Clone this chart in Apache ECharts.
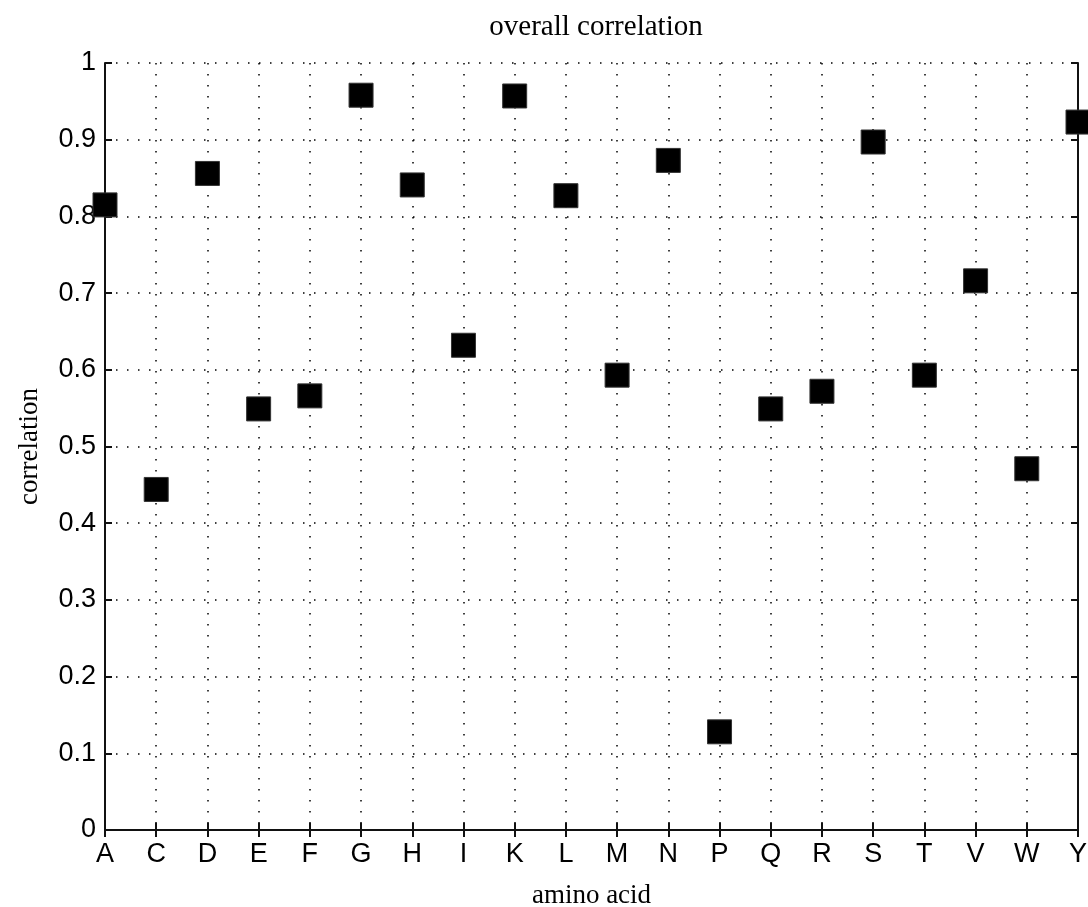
<!DOCTYPE html>
<html>
<head>
<meta charset="utf-8">
<title>overall correlation</title>
<script src="https://cdn.jsdelivr.net/npm/echarts@6/dist/echarts.min.js"></script>
<style>
  html, body { margin: 0; padding: 0; background: #fff; }
  #main { width: 1088px; height: 907px; }
</style>
</head>
<body>
<div id="main"></div>
<script>
// amino acids on the x axis
const aminoAcids = ['A', 'C', 'D', 'E', 'F', 'G', 'H', 'I', 'K', 'L',
                    'M', 'N', 'P', 'Q', 'R', 'S', 'T', 'V', 'W', 'Y'];
// correlation per amino acid
const correlation = [0.815, 0.444, 0.856, 0.549, 0.566, 0.958, 0.841, 0.632, 0.957, 0.827,
                     0.593, 0.873, 0.128, 0.549, 0.572, 0.897, 0.593, 0.716, 0.471, 0.923];
const yMin = 0, yMax = 1, yStep = 0.1;

const myChart = echarts.init(document.getElementById('main'));

const dotted = { color: '#000', width: 1.5, type: [1.5, 9.5] };
const frame = { show: true, lineStyle: { color: '#111', width: 2 } };

var option = {
  backgroundColor: '#fff',
  animation: false,
  title: {
    text: 'overall correlation',
    left: 591,
    textAlign: 'center',
    top: 8,
    textStyle: { fontFamily: 'Liberation Serif', fontWeight: 'normal', fontSize: 29, color: '#000' }
  },
  // MATLAB-like box, labels allowed to run to the canvas edge
  grid: { left: 105, right: 10, top: 63, bottom: 77, containLabel: false, outerBoundsMode: 'none' },
  xAxis: [{
    type: 'category',
    data: aminoAcids,
    boundaryGap: false,
    name: 'amino acid',
    nameLocation: 'middle',
    nameGap: 52,
    nameTextStyle: { fontFamily: 'Liberation Serif', fontSize: 27, color: '#000' },
    axisLine: frame,
    axisTick: { show: true, inside: true, length: 7, lineStyle: { color: '#111', width: 2 } },
    axisLabel: { margin: 11, fontFamily: 'Liberation Sans', fontSize: 27, color: '#000', interval: 0 },
    splitLine: { show: true, interval: 0, lineStyle: dotted }
  }, {
    type: 'category',
    data: aminoAcids,
    boundaryGap: false,
    position: 'top',
    axisLine: frame,
    axisTick: { show: true, inside: true, length: 7, interval: 0, lineStyle: { color: '#111', width: 2 } },
    axisLabel: { show: false },
    splitLine: { show: false }
  }],
  yAxis: [{
    type: 'value',
    min: yMin,
    max: yMax,
    interval: yStep,
    name: 'correlation',
    nameLocation: 'middle',
    nameGap: 62,
    nameTextStyle: { fontFamily: 'Liberation Serif', fontSize: 27, color: '#000' },
    axisLine: frame,
    axisTick: { show: true, inside: true, length: 7, lineStyle: { color: '#111', width: 2 } },
    axisLabel: { margin: 9, fontFamily: 'Liberation Sans', fontSize: 27, color: '#000' },
    splitLine: { show: true, lineStyle: dotted }
  }, {
    type: 'value',
    min: yMin,
    max: yMax,
    interval: yStep,
    position: 'right',
    axisLine: frame,
    axisTick: { show: true, inside: true, length: 7, lineStyle: { color: '#111', width: 2 } },
    axisLabel: { show: false },
    splitLine: { show: false }
  }],
  series: [{
    type: 'scatter',
    xAxisIndex: 0,
    yAxisIndex: 0,
    data: correlation,
    symbol: 'rect',
    symbolSize: 24,
    clip: false,
    z: 10,
    itemStyle: { color: '#000', borderColor: '#333', borderWidth: 1, opacity: 1 }
  }]
};
myChart.setOption(option);
</script>
</body>
</html>
